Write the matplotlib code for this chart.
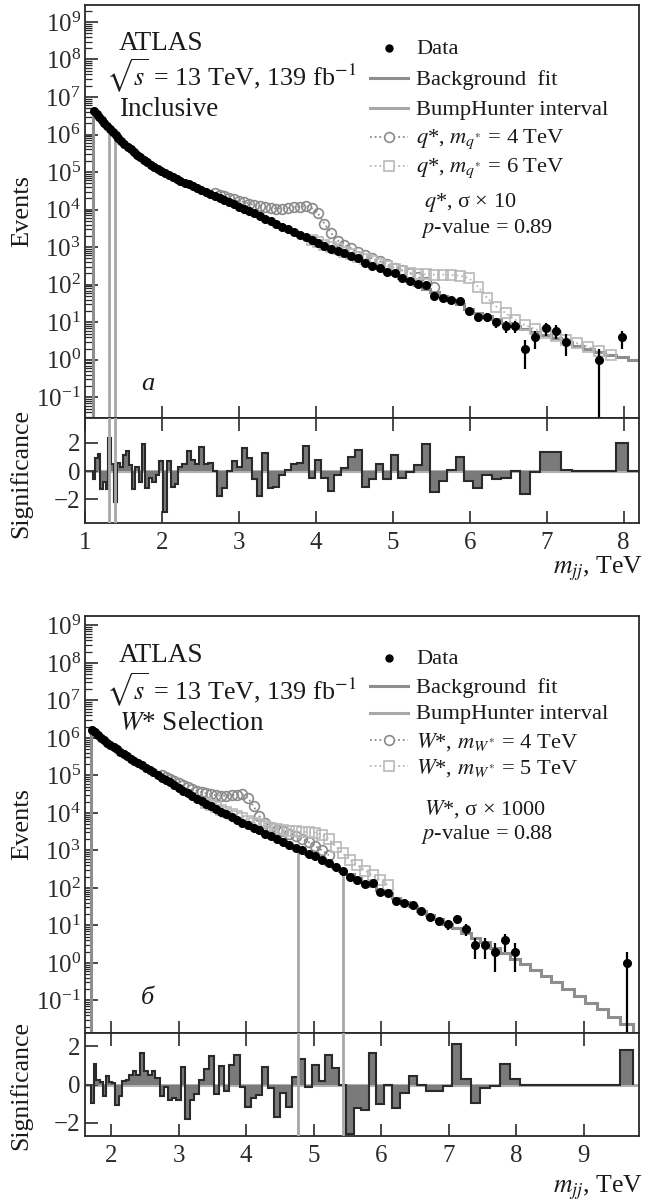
import numpy as np
import matplotlib
matplotlib.use("Agg")
import matplotlib.pyplot as plt
from matplotlib.lines import Line2D
from matplotlib.ticker import LogLocator, NullFormatter, NullLocator

plt.rcParams.update({
    "font.family": ["Liberation Serif", "DejaVu Serif"],
    "mathtext.fontset": "stix",
    "axes.linewidth": 1.3,
    "axes.edgecolor": "#2a2a2a",
    "xtick.color": "#2a2a2a",
    "ytick.color": "#2a2a2a",
    "text.color": "#1a1a1a",
})

# dijet-mass bin edges shared by both selections [TeV]
mjj_edges = [
    1.100, 1.133, 1.166, 1.200, 1.234, 1.269, 1.305, 1.341, 1.378, 1.416,
    1.454, 1.493, 1.533, 1.573, 1.614, 1.656, 1.698, 1.741, 1.785, 1.830,
    1.875, 1.921, 1.968, 2.016, 2.065, 2.114, 2.164, 2.215, 2.267, 2.320,
    2.374, 2.429, 2.485, 2.542, 2.600, 2.659, 2.719, 2.780, 2.842, 2.905,
    2.969, 3.034, 3.100, 3.167, 3.235, 3.305, 3.376, 3.448, 3.521, 3.596,
    3.672, 3.749, 3.827, 3.907, 3.988, 4.070, 4.154, 4.239, 4.326, 4.414,
    4.504, 4.595, 4.688, 4.782, 4.878, 4.975, 5.074, 5.175, 5.277, 5.381,
    5.487, 5.595, 5.705, 5.817, 5.931, 6.047, 6.165, 6.285, 6.407, 6.531,
    6.658, 6.787, 6.918, 7.052, 7.188, 7.326, 7.467, 7.610, 7.756, 7.904,
    8.055, 8.208, 8.364, 8.523, 8.685, 8.850, 9.019, 9.191, 9.366, 9.545,
    9.727,
]

# ---------------- inclusive selection ----------------
incl_edges = mjj_edges[:92]
incl_fit = [
    4.2e6, 3.5e6, 2.9e6, 2.4e6, 2.0e6, 1.66e6, 1.38e6, 1.15e6, 9.5e5, 7.9e5,
    6.6e5, 5.5e5, 4.7e5, 4.0e5, 3.4e5, 2.9e5, 2.45e5, 2.1e5, 1.8e5, 1.58e5,
    1.38e5, 1.2e5, 1.05e5, 9.3e4, 8.3e4, 7.4e4, 6.6e4, 5.9e4, 5.2e4, 4.7e4,
    4.2e4, 3.7e4, 3.3e4, 2.95e4, 2.6e4, 2.35e4, 2.05e4, 1.8e4, 1.58e4, 1.38e4,
    1.2e4, 1.05e4, 9.1e3, 7.9e3, 6.8e3, 5.75e3, 4.9e3, 4.2e3, 3.55e3, 3.0e3,
    2.5e3, 2.15e3, 1.82e3, 1.51e3, 1.29e3, 1.1e3, 930, 790, 680, 560,
    480, 400, 330, 275, 230, 190, 155, 126, 100, 79,
    63, 50, 40, 30, 23, 18, 14.8, 12.0, 9.8, 7.9,
    6.6, 5.5, 4.6, 3.7, 3.0, 2.4, 2.0, 1.66, 1.38, 1.17,
    1.0,
]
incl_data = [
    4.2e6, 3.5e6, 2.9e6, 2.4e6, 2.0e6, 1.66e6, 1.38e6, 1.15e6, 9.5e5, 7.9e5,
    6.6e5, 5.5e5, 4.7e5, 4.0e5, 3.4e5, 2.9e5, 2.45e5, 2.1e5, 1.8e5, 1.58e5,
    1.38e5, 1.2e5, 1.05e5, 9.3e4, 8.3e4, 7.4e4, 6.6e4, 5.9e4, 5.2e4, 4.7e4,
    4.2e4, 3.7e4, 3.3e4, 2.95e4, 2.6e4, 2.35e4, 2.05e4, 1.8e4, 1.58e4, 1.38e4,
    1.2e4, 1.05e4, 9.1e3, 7.9e3, 6.8e3, 5.75e3, 4.9e3, 4.2e3, 3.55e3, 3.0e3,
    2.5e3, 2.15e3, 1.82e3, 1.51e3, 1.29e3, 1.1e3, 890, 780, 685, 585,
    515, 378, 319, 283, 222, 206, 149, 125, 105, 96,
    51, 45, 40, 36, 20, 14, 14, 10, 8, 8,
    2, 4, 7, 6, 3, 0, 0, 1, 0, 4,
    0,
]
incl_signif = [
    -0.6, 0.9, 1.2, -1.3, -0.8, -1.3, 2.3, 0.5, -2.2, 0.6,
    0.3, 1.1, 1.4, 0.4, -1.3, 0.3, -0.8, 1.9, -1.2, -0.5,
    -0.8, -0.3, 0.7, -2.9, 0.7, -1.1, -0.9, 0.3, 0.5, 1.4,
    0.8, 0.5, 1.7, 0.5, 0.6, 0.0, -1.8, -1.2, 0.0, 0.7,
    0.3, 1.6, 0.9, -0.6, -1.8, 1.3, -1.2, -1.1, -0.3, 0.1,
    0.5, 0.6, 1.8, -0.5, 0.8, -0.5, -1.4, -0.3, 0.2, 1.0,
    1.5, -1.1, -0.6, 0.5, -0.55, 1.15, -0.5, -0.1, 0.45, 1.9,
    -1.5, -0.7, 0.05, 1.0, -0.7, -1.2, -0.25, -0.6, -0.5, 0.0,
    -1.6, -0.1, 1.35, 1.35, 0.1, 0.0, 0.0, 0.0, 0.0, 2.0,
    0.0,
]
# q* signal + background (sigma x 10); first bin index of each curve
qstar4_first = 35
qstar4 = [
    2.7e4, 2.5e4, 2.3e4, 2.1e4, 1.9e4, 1.74e4, 1.58e4, 1.45e4, 1.32e4, 1.23e4,
    1.15e4, 1.1e4, 1.07e4, 1.07e4, 1.1e4, 1.15e4, 1.2e4, 1.23e4, 1.1e4, 7.9e3,
    4.2e3, 2.4e3, 1.5e3, 1.15e3, 930, 760, 620, 500, 420, 350,
    280, 240, 200, 160, 120, 89,
]
qstar6_first = 53
qstar6 = [
    1.58e3, 1.35e3, 1.17e3, 1.0e3, 870, 740, 650, 560, 480, 420,
    355, 310, 270, 235, 210, 195, 190, 186, 186, 182,
    174, 150, 89, 45, 26, 17.4, 11.5, 8.3, 6.6, 5.2,
    4.2, 3.4, 2.75, 2.25, 1.7, 1.32,
]
incl_bumphunter = [1.31, 1.39]

# ---------------- W* selection ----------------
wsel_edges = mjj_edges[16:]
wsel_fit = [
    1.66e6, 1.41e6, 1.2e6, 1.02e6, 8.7e5, 7.4e5, 6.5e5, 5.6e5, 4.9e5, 4.3e5,
    3.7e5, 3.2e5, 2.8e5, 2.45e5, 2.15e5, 1.86e5, 1.58e5, 1.38e5, 1.2e5, 1.02e5,
    8.7e4, 7.6e4, 6.5e4, 5.5e4, 4.6e4, 3.9e4, 3.3e4, 2.8e4, 2.4e4, 2.05e4,
    1.74e4, 1.48e4, 1.26e4, 1.07e4, 9.1e3, 7.8e3, 6.6e3, 5.5e3, 4.7e3, 4.0e3,
    3.4e3, 2.8e3, 2.4e3, 2.0e3, 1.66e3, 1.38e3, 1.15e3, 955, 795, 660,
    537, 437, 355, 288, 229, 182, 145, 115, 89, 71,
    55, 43, 32, 24.5, 19, 14.5, 11, 8.3, 6.3, 4.7,
    3.5, 2.5, 1.8, 1.3, 0.91, 0.63, 0.44, 0.30, 0.20, 0.13,
    0.087, 0.058, 0.037, 0.024,
]
wsel_data = [
    1.66e6, 1.41e6, 1.2e6, 1.02e6, 8.7e5, 7.4e5, 6.5e5, 5.6e5, 4.9e5, 4.3e5,
    3.7e5, 3.2e5, 2.8e5, 2.45e5, 2.15e5, 1.86e5, 1.58e5, 1.38e5, 1.2e5, 1.02e5,
    8.7e4, 7.6e4, 6.5e4, 5.5e4, 4.6e4, 3.9e4, 3.3e4, 2.8e4, 2.4e4, 2.05e4,
    1.74e4, 1.48e4, 1.26e4, 1.07e4, 9.1e3, 7.8e3, 6.6e3, 5.5e3, 4.7e3, 4.0e3,
    3.4e3, 2.8e3, 2.4e3, 2.0e3, 1.66e3, 1.38e3, 1160, 1000, 790, 690,
    540, 470, 370, 288, 190, 165, 130, 135, 80, 71,
    46, 40, 35, 24, 17, 13, 11, 15, 8, 3,
    3, 2, 4, 2, 0, 0, 0, 0, 0, 0,
    0, 0, 0, 1,
]
wsel_signif = [
    -0.95, 1.1, 0.25, 0.15, -0.6, 0.45, 0.15, 0.1, -1.05, -0.6,
    0.2, 0.25, 0.5, 0.7, 0.5, 1.65, 0.7, 0.5, 0.7, 0.35,
    -0.6, -0.1, -0.8, -0.7, -0.8, 0.9, -1.8, -0.8, -0.5, 0.25,
    0.8, 1.5, -0.5, 0.95, -0.35, 1.05, 1.55, -0.1, -1.15, -0.7,
    -0.55, 0.9, -0.2, -1.7, -0.45, -1.15, 0.4, 1.35, -0.1, 1.05,
    0.2, 1.55, 0.85, 0.0, -2.6, -1.2, -1.3, 1.65, -1.0, 0.0,
    -1.2, -0.45, 0.45, 0.0, -0.35, -0.35, -0.05, 2.1, 0.3, -0.95,
    -0.2, -0.05, 1.1, 0.3, 0.0, 0.0, 0.0, 0.0, 0.0, 0.0,
    0.0, 0.0, 0.0, 1.8,
]
# W* signal + background (sigma x 1000)
wstar4_first = 20
wstar4 = [
    1.05e5, 9.3e4, 8.1e4, 7.1e4, 6.2e4, 5.4e4, 4.8e4, 4.3e4, 3.9e4, 3.55e4,
    3.3e4, 3.1e4, 2.95e4, 2.9e4, 2.9e4, 2.95e4, 3.0e4, 3.1e4, 2.5e4, 1.5e4,
    8.3e3, 5.5e3, 4.3e3, 3.6e3, 3.2e3, 2.75e3, 2.4e3, 2.05e3, 1.66e3, 1.32e3,
    1.0e3, 740,
]
wstar5_first = 30
wstar5 = [
    1.86e4, 1.62e4, 1.41e4, 1.23e4, 1.07e4, 9.3e3, 8.1e3, 7.1e3, 6.2e3, 5.5e3,
    4.9e3, 4.4e3, 4.0e3, 3.7e3, 3.5e3, 3.3e3, 3.2e3, 3.15e3, 3.1e3, 2.95e3,
    2.6e3, 2.0e3, 1.26e3, 830, 560, 400, 290, 215, 160, 117,
]
wsel_bumphunter = [4.77, 5.43]

FIT_C = "#8e8e8e"
BH_C = "#a8a8a8"
SIG_A_C = "#8a8a8a"
SIG_B_C = "#b9b9b9"
DOTTED = (0, (1, 1.6))

W, H = 650, 1202
fig = plt.figure(figsize=(W / 100, H / 100), dpi=100)


def fx(x):
    return x / W


def fy(y):
    return 1 - y / H


def add_axes(x0, x1, ytop, ybot):
    return fig.add_axes([fx(x0), fy(ybot), fx(x1) - fx(x0), (ybot - ytop) / H])


def draw_selection(ax, axr, edges, fit, data, signif, signals, bh_edges,
                   xlim, ylim, rlim, xticks):
    edges = np.asarray(edges)
    centers = 0.5 * (edges[:-1] + edges[1:])
    fit = np.asarray(fit, float)
    data = np.asarray(data, float)

    ax.set_yscale("log")
    ax.set_xlim(*xlim)
    ax.set_ylim(*ylim)

    for xb in bh_edges:
        k = np.searchsorted(edges, xb) - 1
        ax.plot([xb, xb], [ylim[0], fit[k]], color=BH_C, lw=2.0, zorder=1)
        axr.axvline(xb, color=BH_C, lw=2.0, zorder=4)

    ax.stairs(fit, edges, color=FIT_C, lw=2.2, zorder=2)

    for first, vals, col, mk in signals:
        idx = np.arange(first, first + len(vals))
        ax.plot(centers[idx], vals, ls=DOTTED, color=col, lw=1.3,
                marker=mk, ms=7, mfc="none", mec=col, mew=1.2, zorder=3)

    m = data > 0
    ax.errorbar(centers[m], data[m], yerr=np.sqrt(data[m]), fmt="o",
                color="black", ms=5.5, elinewidth=1.6, capsize=0, zorder=5)

    ax.yaxis.set_major_locator(LogLocator(base=10, numticks=30))
    ax.yaxis.set_minor_locator(LogLocator(base=10, subs=np.arange(2, 10),
                                          numticks=30))
    ax.yaxis.set_minor_formatter(NullFormatter())
    ax.tick_params(axis="y", which="major", direction="in", length=9,
                   width=1.2, labelsize=18, pad=3)
    ax.tick_params(axis="y", which="minor", direction="in", length=5,
                   width=0.9)
    ax.set_xticks(xticks)
    ax.xaxis.set_minor_locator(NullLocator())
    ax.tick_params(axis="x", direction="in", length=9, width=1.2,
                   labelbottom=False)

    # significance panel
    axr.axhline(0, color="#b0b0b0", lw=2.2, zorder=1)
    axr.stairs(signif, edges, baseline=0, fill=True, color="#7a7a7a",
               lw=0, zorder=2)
    axr.stairs(signif, edges, baseline=0, color="#2a2a2a", lw=1.5, zorder=3)
    axr.set_xlim(*xlim)
    axr.set_ylim(*rlim)
    axr.set_yticks([-2, 0, 2])
    axr.set_xticks(xticks)
    axr.xaxis.set_minor_locator(NullLocator())
    axr.yaxis.set_minor_locator(NullLocator())
    axr.tick_params(axis="both", direction="in", length=9, width=1.2,
                    labelsize=18, top=True)
    axr.tick_params(axis="x", pad=6)
    axr.tick_params(axis="y", pad=3)


def draw_key(rows, labels, fontsize=16.2):
    """Legend rows: handle from x=370 to 408 px, text from x=416 px."""
    styles = [
        dict(ls="none", marker="o", color="black", ms=5),
        dict(color=FIT_C, lw=2.2),
        dict(color=BH_C, lw=2.2),
        dict(color=SIG_A_C, ls=DOTTED, lw=1.3),
        dict(color=SIG_B_C, ls=DOTTED, lw=1.3),
    ]
    marks = [None, None, None, "o", "s"]
    mcols = [None, None, None, SIG_A_C, SIG_B_C]
    for y, lab, st, mk, mc in zip(rows, labels, styles, marks, mcols):
        if st.get("ls") == "none":
            fig.add_artist(Line2D([fx(389)], [fy(y)], transform=fig.transFigure,
                                  **st))
        else:
            fig.add_artist(Line2D([fx(370), fx(408)], [fy(y), fy(y)],
                                  transform=fig.transFigure, **st))
        if mk:
            fig.add_artist(Line2D([fx(389)], [fy(y)], transform=fig.transFigure,
                                  ls="none", marker=mk, ms=7, mfc="white",
                                  mec=mc, mew=1.2))
        fig.text(fx(416), fy(y + 2), lab, fontsize=fontsize, ha="left",
                 va="center")


# ---------------- top: inclusive ----------------
ax1 = add_axes(85, 639, 5, 418)
ax1r = add_axes(85, 639, 418, 523.3)
draw_selection(
    ax1, ax1r, incl_edges, incl_fit, incl_data, incl_signif,
    [(qstar4_first, qstar4, SIG_A_C, "o"), (qstar6_first, qstar6, SIG_B_C, "s")],
    incl_bumphunter, (1.0, 8.2), (10 ** -1.55, 10 ** 9.45), (-3.7, 3.75),
    range(1, 9),
)
draw_key([48, 78, 108, 137, 166],
         ["Data", "Background  fit", "BumpHunter interval",
          r"$q$*, $m_{q^{*}}$ = 4 TeV", r"$q$*, $m_{q^{*}}$ = 6 TeV"])

fig.text(fx(119), fy(43), "ATLAS", fontsize=19.5, ha="left", va="center")
fig.text(fx(106), fy(76), r"$\sqrt{s}$ = 13 TeV, 139 fb$^{-1}$",
         fontsize=18.8, ha="left", va="center")
fig.text(fx(119), fy(109), "Inclusive", fontsize=19.5, ha="left", va="center")
fig.text(fx(424), fy(203), r"$q$*, σ × 10", fontsize=16, ha="left",
         va="center")
fig.text(fx(421), fy(228), r"$p$-value = 0.89", fontsize=16, ha="left",
         va="center")
fig.text(fx(141), fy(384), "a", fontsize=19, style="italic", ha="left",
         va="center")
fig.text(fx(22), fy(211), "Events", fontsize=19, rotation=90, ha="center",
         va="center")
fig.text(fx(21), fy(474), "Significance", fontsize=18.5, rotation=90,
         ha="center", va="center")
fig.text(fx(643), fy(569), r"$m_{jj}$, TeV", fontsize=18.5, ha="right",
         va="center")

# ---------------- bottom: W* selection ----------------
ax2 = add_axes(85, 639, 616, 1033)
ax2r = add_axes(85, 639, 1033, 1136.3)
draw_selection(
    ax2, ax2r, wsel_edges, wsel_fit, wsel_data, wsel_signif,
    [(wstar4_first, wstar4, SIG_A_C, "o"), (wstar5_first, wstar5, SIG_B_C, "s")],
    wsel_bumphunter, (1.615, 9.82), (10 ** -1.87, 10 ** 9.25), (-2.7, 2.7),
    range(2, 10),
)
draw_key([658, 686, 713, 740, 766],
         ["Data", "Background  fit", "BumpHunter interval",
          r"$W$*, $m_{W^{*}}$ = 4 TeV", r"$W$*, $m_{W^{*}}$ = 5 TeV"])

fig.text(fx(119), fy(656), "ATLAS", fontsize=19.5, ha="left", va="center")
fig.text(fx(106), fy(690), r"$\sqrt{s}$ = 13 TeV, 139 fb$^{-1}$",
         fontsize=18.8, ha="left", va="center")
fig.text(fx(119), fy(724), r"$W$* Selection", fontsize=19.5, ha="left",
         va="center")
fig.text(fx(424), fy(809), r"$W$*, σ × 1000", fontsize=16, ha="left",
         va="center")
fig.text(fx(421), fy(834), r"$p$-value = 0.88", fontsize=16, ha="left",
         va="center")
fig.text(fx(141), fy(998), "б", fontsize=19, style="italic", ha="left",
         va="center")
fig.text(fx(22), fy(824), "Events", fontsize=19, rotation=90, ha="center",
         va="center")
fig.text(fx(21), fy(1086), "Significance", fontsize=18.5, rotation=90,
         ha="center", va="center")
fig.text(fx(643), fy(1188), r"$m_{jj}$, TeV", fontsize=18.5, ha="right",
         va="center")

fig.savefig("out.png", dpi=100)
